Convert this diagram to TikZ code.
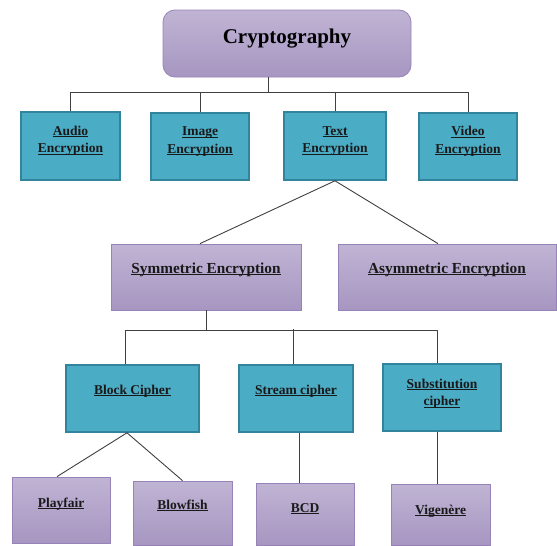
\documentclass[tikz,border=0pt]{standalone}
\usepackage{fontspec}
\setmainfont{Liberation Serif}
\usepackage{tikz}
\usetikzlibrary{positioning,calc}

\definecolor{tealfill}{HTML}{4BACC6}
\definecolor{tealedge}{HTML}{31849B}
\definecolor{purptop}{HTML}{C0B4D4}
\definecolor{purpbot}{HTML}{A696C1}
\definecolor{purpedge}{HTML}{9883B8}

% underline set close to the baseline
\newcommand{\ulin}[1]{\underline{\smash{#1}}}

\tikzset{
    tealbox/.style={draw=tealedge, line width=1.6pt, fill=tealfill, inner sep=0pt},
    purpbox/.style={draw=purpedge, line width=0.8pt, top color=purptop, bottom color=purpbot, inner sep=0pt},
    lbl/.style={font=\bfseries\fontsize{13.5}{17.5}\selectfont, align=center, text=black!90},
    biglbl/.style={font=\bfseries\fontsize{15.3}{18}\selectfont, align=center, text=black!90},
    link/.style={draw=black!75, line width=0.9pt}
}

\begin{document}
\begin{tikzpicture}[x=1pt, y=-1pt]

    \useasboundingbox (0,0) rectangle (557,546);

    % =========================================================================
    % Root
    % =========================================================================
    \node[purpbox, rounded corners=12pt, minimum width=248pt, minimum height=67pt,
          label={[font=\bfseries\fontsize{21}{24}\selectfont, yshift=4.5pt]center:{Cryptography}}]
        (crypto) at (287,43.5) {};

    % =========================================================================
    % Media types
    % =========================================================================
    \node[tealbox, minimum width=99pt, minimum height=68pt,
          label={[lbl, yshift=1pt]center:{\ulin{Audio}\\\ulin{Encryption}}}]
        (audio) at (70.5,146) {};
    \node[tealbox, minimum width=98pt, minimum height=67pt,
          label={[lbl, yshift=1pt]center:{\ulin{Image}\\\ulin{Encryption}}}]
        (image) at (200,146.5) {};
    \node[tealbox, minimum width=102pt, minimum height=68pt,
          label={[lbl, yshift=1pt]center:{\ulin{Text}\\\ulin{Encryption}}}]
        (text) at (335,146) {};
    \node[tealbox, minimum width=98pt, minimum height=67pt,
          label={[lbl, yshift=1pt]center:{\ulin{Video}\\\ulin{Encryption}}}]
        (video) at (468,146.5) {};

    % root to media types
    \draw[link] ([xshift=-19pt]crypto.south) -- ++(0,15) coordinate (bus1);
    \draw[link] (audio.north) |- (bus1) -| (video.north);
    \foreach \n in {image,text} {
        \draw[link] (\n.north) -- (\n.north |- bus1);
    }

    % =========================================================================
    % Key types
    % =========================================================================
    \node[purpbox, minimum width=190pt, minimum height=66pt,
          label={[biglbl, yshift=3pt]center:{\ulin{Symmetric Encryption}}}]
        (sym) at (206,277) {};
    \node[purpbox, minimum width=218pt, minimum height=66pt,
          label={[biglbl, yshift=3pt]center:{\ulin{Asymmetric Encryption}}}]
        (asym) at (447,277) {};

    \draw[link] (text.south) -- ([xshift=-6pt]sym.north);
    \draw[link] (text.south) -- ([xshift=-9pt]asym.north);

    % =========================================================================
    % Cipher families
    % =========================================================================
    \node[tealbox, minimum width=133pt, minimum height=67pt,
          label={[lbl, yshift=3.5pt]center:{\ulin{Block Cipher}}}]
        (block) at (132.5,398.5) {};
    \node[tealbox, minimum width=114pt, minimum height=67pt,
          label={[lbl, yshift=3.5pt]center:{\ulin{Stream cipher}}}]
        (stream) at (296,398.5) {};
    \node[tealbox, minimum width=118pt, minimum height=67pt,
          label={[lbl, yshift=-0.5pt]center:{\ulin{Substitution}\\\ulin{cipher}}}]
        (subst) at (442,397.5) {};

    \draw[link] (sym.south) -- ++(0,20) coordinate (bus2);
    \draw[link] ([xshift=-7.5pt]block.north) |- (bus2) -| ([xshift=-5pt]subst.north);
    \draw[link] ([xshift=-3pt]stream.north) -- ++(0,-35);

    % =========================================================================
    % Examples
    % =========================================================================
    \node[purpbox, minimum width=98pt, minimum height=66pt,
          label={[lbl, yshift=2pt]center:{\ulin{Playfair}}}]
        (playfair) at (61,510) {};
    \node[purpbox, minimum width=99pt, minimum height=64pt,
          label={[lbl, yshift=3pt]center:{\ulin{Blowfish}}}]
        (blowfish) at (182.5,513) {};
    \node[purpbox, minimum width=98pt, minimum height=62pt,
          label={[lbl, yshift=1pt]center:{\ulin{BCD}}}]
        (bcd) at (305,514) {};
    \node[purpbox, minimum width=99pt, minimum height=61pt,
          label={[lbl, yshift=-0.5pt]center:{\ulin{Vigenère}}}]
        (vigenere) at (440.5,514.5) {};

    \draw[link] ([xshift=-5.5pt]block.south) -- ([xshift=-4pt]playfair.north);
    \draw[link] ([xshift=-5.5pt]block.south) -- (blowfish.north);
    \draw[link] ([xshift=3pt]stream.south) -- ([xshift=-6pt]bcd.north);
    \draw[link] ([xshift=-5pt]subst.south) -- ([xshift=-3.5pt]vigenere.north);

\end{tikzpicture}
\end{document}
